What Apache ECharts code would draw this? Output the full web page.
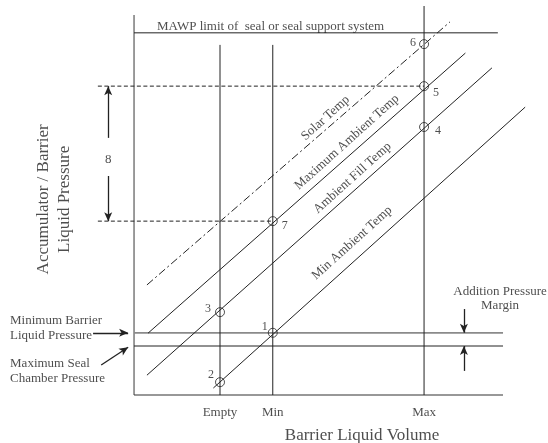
<!DOCTYPE html>
<html>
<head>
<meta charset="utf-8">
<script src="https://cdn.jsdelivr.net/npm/echarts@6/dist/echarts.min.js"></script>
<style>html,body{margin:0;padding:0;background:#fff}#c{width:548px;height:443px}</style>
</head>
<body>
<div id="c"></div>
<script>
// ---- data (arbitrary units: volume 0..100, pressure 0..100) ----
const xTicks = ['Empty', 'Min', 'Max'];
const xTickPos = [23.3, 37.6, 78.6];
const yAxisTop = 97.7;
const xAxisEnd = 100;
const mawpLevel = 93.1;
const mawpEnd = 98.6;
const minBarrierLevel = 16.0;
const maxSealLevel = 12.6;
const verticalTops = [90.0, 90.0, 100.0];
const dashedLevels = [79.4, 44.7];
const dashedStart = -9.8;
const dashedEnds = [78.6, 37.6];
// diagonal temperature lines [x1, y1, x2, y2]
const lineNames = ['Solar Temp', 'Maximum Ambient Temp', 'Ambient Fill Temp', 'Min Ambient Temp'];
const solarTemp = [3.5, 28.3, 85.6, 95.9];
const maxAmbientTemp = [3.8, 15.9, 89.8, 87.9];
const ambientFillTemp = [3.5, 5.1, 97.0, 84.1];
const minAmbientTemp = [21.5, 1.8, 106.0, 74.0];
const lineLabelPos = [[51.9, 71.2], [57.7, 65.0], [59.2, 55.8], [59.1, 39.1]];
// numbered state points
const pointNames = ['1', '2', '3', '4', '5', '6', '7'];
const pointX = [37.6, 23.3, 23.3, 78.6, 78.6, 78.6, 37.6];
const pointY = [16.0, 3.3, 21.3, 68.9, 79.4, 90.2, 44.7];
const pointLabelOffset = [[-8, -6], [-9, -7], [-12, -3], [14, 4], [12, 7], [-11, -1], [12, 5]];
// annotation texts
const mawpText = 'MAWP limit of  seal or seal support system';
const xTitle = 'Barrier Liquid Volume';
const yTitle = 'Accumulator / Barrier\nLiquid Pressure';
const minBarrierText = 'Minimum Barrier\nLiquid Pressure';
const maxSealText = 'Maximum Seal\nChamber Pressure';
const marginText = 'Addition Pressure\nMargin';
const rangeText = '8';

const FONT = 'Liberation Serif';
const INK = '#222';

function seg(pts, style, z) {
  return {
    type: 'line', data: pts, symbol: 'none', silent: true, clip: false,
    animation: false, z: z || 2,
    lineStyle: Object.assign({ color: INK, width: 1 }, style || {})
  };
}
function diag(a, style) { return seg([[a[0], a[1]], [a[2], a[3]]], style); }

const series = [];
// frame
series.push(seg([[0, 0], [0, yAxisTop]], { color: '#666', width: 1.3 }));
series.push(seg([[0, 0], [xAxisEnd, 0]], { color: '#333', width: 1.2 }));
// horizontal limits
series.push(seg([[0, mawpLevel], [mawpEnd, mawpLevel]], {}));
series.push(seg([[0, minBarrierLevel], [xAxisEnd, minBarrierLevel]], { color: '#8a8a8a', width: 1.8 }));
series.push(seg([[0, maxSealLevel], [xAxisEnd, maxSealLevel]], {}));
// verticals
xTickPos.forEach((x, i) => series.push(seg([[x, 0], [x, verticalTops[i]]], {})));
// dashed
dashedLevels.forEach((y, i) => series.push(seg([[dashedStart, y], [dashedEnds[i], y]], { type: [4, 2.5] })));
// diagonals
series.push(diag(solarTemp, { type: [8, 3, 2, 3] }));
series.push(diag(maxAmbientTemp, {}));
series.push(diag(ambientFillTemp, {}));
series.push(diag(minAmbientTemp, {}));

// points
series.push({
  type: 'scatter', silent: true, animation: false, clip: false, z: 5,
  symbol: 'circle', symbolSize: 9,
  itemStyle: { color: 'rgba(0,0,0,0)', borderColor: INK, borderWidth: 1 },
  data: pointNames.map((n, i) => ({
    name: n, value: [pointX[i], pointY[i]],
    label: { show: true, position: 'inside', formatter: '{b}', offset: pointLabelOffset[i],
      fontFamily: FONT, fontSize: 12, color: INK }
  }))
});

// texts
function txt(name, x, y, extra) {
  return { name: name, value: [x, y],
    label: Object.assign({ show: true, position: 'inside', formatter: '{b}', fontFamily: FONT,
      fontSize: 13, color: INK, align: 'center', verticalAlign: 'middle' }, extra || {}) };
}
const texts = [];
lineNames.forEach((n, i) => texts.push(txt(n, lineLabelPos[i][0], lineLabelPos[i][1], { rotate: 42 })));
texts.push(txt(mawpText, 37.0, 94.6, { fontSize: 13 }));
xTicks.forEach((t, i) => texts.push(txt(t, xTickPos[i], -4.6, {})));
texts.push(txt(xTitle, 61.8, -10.3, { fontSize: 17 }));
texts.push(txt(yTitle, -21.7, 50.3, { fontSize: 17, rotate: 90, lineHeight: 21 }));
texts.push(txt(minBarrierText, -33.6, 17.1, { align: 'left', lineHeight: 15 }));
texts.push(txt(maxSealText, -33.6, 6.2, { align: 'left', lineHeight: 15 }));
texts.push(txt(marginText, 99.2, 24.8, { lineHeight: 14 }));
texts.push(txt(rangeText, -7.0, 60.4, {}));
series.push({
  type: 'scatter', silent: true, animation: false, clip: false, z: 6,
  symbolSize: 0, data: texts
});

// arrows
const arrows = [
  [[-7.0, 66.1], [-7.0, 79.4]],
  [[-7.0, 56.3], [-7.0, 44.7]],
  [[-11.1, minBarrierLevel], [-1.6, minBarrierLevel]],
  [[-8.9, 7.7], [-1.6, 12.3]],
  [[89.4, 22.1], [89.4, minBarrierLevel]],
  [[89.4, 6.2], [89.4, maxSealLevel]]
];
series.push({
  type: 'line', data: [], silent: true, animation: false, z: 4,
  markLine: {
    silent: true, animation: false, symbol: ['none', 'arrow'], symbolSize: [6, 9],
    label: { show: false },
    lineStyle: { color: INK, type: 'solid', width: 1.3 },
    data: arrows.map(a => [{ coord: a[0] }, { coord: a[1] }])
  }
});

const chart = echarts.init(document.getElementById('c'), null, { renderer: 'canvas' });
chart.setOption({
  backgroundColor: '#fff',
  animation: false,
  grid: { left: 1.2, right: 0.7, top: 6, bottom: 1.3 },
  xAxis: { type: 'value', min: -36, max: 112, show: false },
  yAxis: { type: 'value', min: -12, max: 100, show: false },
  series: series
});
</script>
</body>
</html>
